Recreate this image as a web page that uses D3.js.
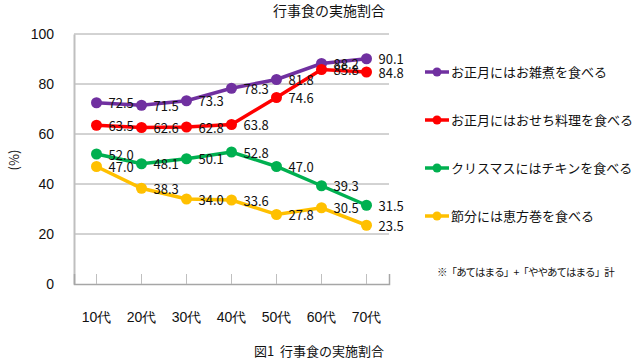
<!DOCTYPE html>
<html>
<head>
<meta charset="utf-8">
<script src="https://cdn.jsdelivr.net/npm/d3@7"></script>
<style>
  body { margin: 0; background: #fff; }
  svg { display: block; font-family: "Noto Sans CJK JP", "Noto Sans", sans-serif; }
</style>
</head>
<body>
<svg id="svg" width="634" height="364"></svg>
<script>
const ages = ["10代", "20代", "30代", "40代", "50代", "60代", "70代"];
const seriesNames = [
  "お正月にはお雑煮を食べる",
  "お正月にはおせち料理を食べる",
  "クリスマスにはチキンを食べる",
  "節分には恵方巻を食べる"
];
const zoni = [72.5, 71.5, 73.3, 78.3, 81.8, 88.2, 90.1];
const osechi = [63.5, 62.6, 62.8, 63.8, 74.6, 85.8, 84.8];
const chicken = [52.0, 48.1, 50.1, 52.8, 47.0, 39.3, 31.5];
const ehomaki = [47.0, 38.3, 34.0, 33.6, 27.8, 30.5, 23.5];
const yTicks = [0, 20, 40, 60, 80, 100];

const colors = ["#7030a0", "#ff0000", "#00b050", "#ffc000"];
const allValues = [zoni, osechi, chicken, ehomaki];

const svg = d3.select("#svg");
const margin = {top: 34, left: 74, right: 245, bottom: 80};
const width = 634, height = 364;
const innerWidth = width - margin.left - margin.right;
const innerHeight = height - margin.top - margin.bottom;

const xScale = d3.scaleBand().domain(ages).range([0, innerWidth]);
const yScale = d3.scaleLinear().domain([0, 100]).range([innerHeight, 0]);
const cx = d => xScale(d) + xScale.bandwidth() / 2;

const g = svg.append("g")
  .attr("transform", `translate(${margin.left},${margin.top})`);

// gridlines
g.selectAll(".grid").data(yTicks.filter(d => d > 0))
  .enter().append("line")
  .attr("x1", 0).attr("x2", innerWidth)
  .attr("y1", d => yScale(d)).attr("y2", d => yScale(d))
  .attr("stroke", "#a6a6a6").attr("stroke-width", 1);

// y axis
const yAxisG = g.append("g").call(d3.axisLeft(yScale).tickValues(yTicks).tickSize(0).tickPadding(20));
yAxisG.select(".domain").attr("stroke", "#bfbfbf").attr("stroke-width", 2);
yAxisG.selectAll("text").attr("font-size", 14).attr("fill", "#111");

// x axis
const xAxisG = g.append("g")
  .attr("transform", `translate(0,${innerHeight})`)
  .call(d3.axisBottom(xScale).tickSize(-10).tickSizeOuter(-10).tickPadding(28));
xAxisG.select(".domain").attr("stroke", "#a6a6a6").attr("stroke-width", 1.5);
xAxisG.selectAll(".tick line").attr("stroke", "#bfbfbf");
xAxisG.selectAll("text").attr("font-size", 14).attr("fill", "#111");

// series
const line = d3.line().x((d, i) => cx(ages[i])).y(d => yScale(d));
allValues.forEach((vals, s) => {
  const sg = g.append("g");
  sg.append("path").datum(vals)
    .attr("d", line)
    .attr("fill", "none")
    .attr("stroke", colors[s])
    .attr("stroke-width", 3.5);
  sg.selectAll("circle").data(vals).enter().append("circle")
    .attr("cx", (d, i) => cx(ages[i]))
    .attr("cy", d => yScale(d))
    .attr("r", 5.5)
    .attr("fill", colors[s]);
});
allValues.forEach(vals => {
  g.append("g").selectAll("text").data(vals).enter().append("text")
    .attr("x", (d, i) => cx(ages[i]) + 12)
    .attr("y", d => yScale(d) + 2)
    .attr("dominant-baseline", "middle")
    .attr("font-size", 13)
    .attr("fill", "#111")
    .text(d => d.toFixed(1));
});

// y label
svg.append("text")
  .attr("transform", "translate(15,160) rotate(-90)")
  .attr("text-anchor", "middle")
  .attr("dominant-baseline", "middle")
  .attr("font-size", 13)
  .attr("fill", "#111")
  .text("(%)");

// legend
const legend = svg.append("g").attr("transform", "translate(425,72)");
seriesNames.forEach((name, i) => {
  const lg = legend.append("g").attr("transform", `translate(0,${i * 48})`);
  lg.append("line").attr("x1", 0).attr("x2", 24).attr("y1", 0).attr("y2", 0)
    .attr("stroke", colors[i]).attr("stroke-width", 3.5);
  lg.append("circle").attr("cx", 12).attr("cy", 0).attr("r", 4.5).attr("fill", colors[i]);
  lg.append("text").attr("x", 26).attr("y", 1)
    .attr("dominant-baseline", "middle")
    .attr("font-size", 13).attr("fill", "#111")
    .text(name);
});

svg.append("text")
  .attr("x", 437).attr("y", 273)
  .attr("dominant-baseline", "middle")
  .attr("font-size", 10.5).attr("letter-spacing", -0.9).attr("fill", "#111")
  .text("※「あてはまる」+「ややあてはまる」計");

// titles
svg.append("text")
  .attr("x", 329).attr("y", 12)
  .attr("text-anchor", "middle").attr("dominant-baseline", "middle")
  .attr("font-size", 14).attr("fill", "#111")
  .text("行事食の実施割合");

svg.append("text")
  .attr("x", 319).attr("y", 352)
  .attr("text-anchor", "middle").attr("dominant-baseline", "middle")
  .attr("font-size", 13).attr("fill", "#111")
  .text("図1\u00a0\u00a0行事食の実施割合");
</script>
</body>
</html>
